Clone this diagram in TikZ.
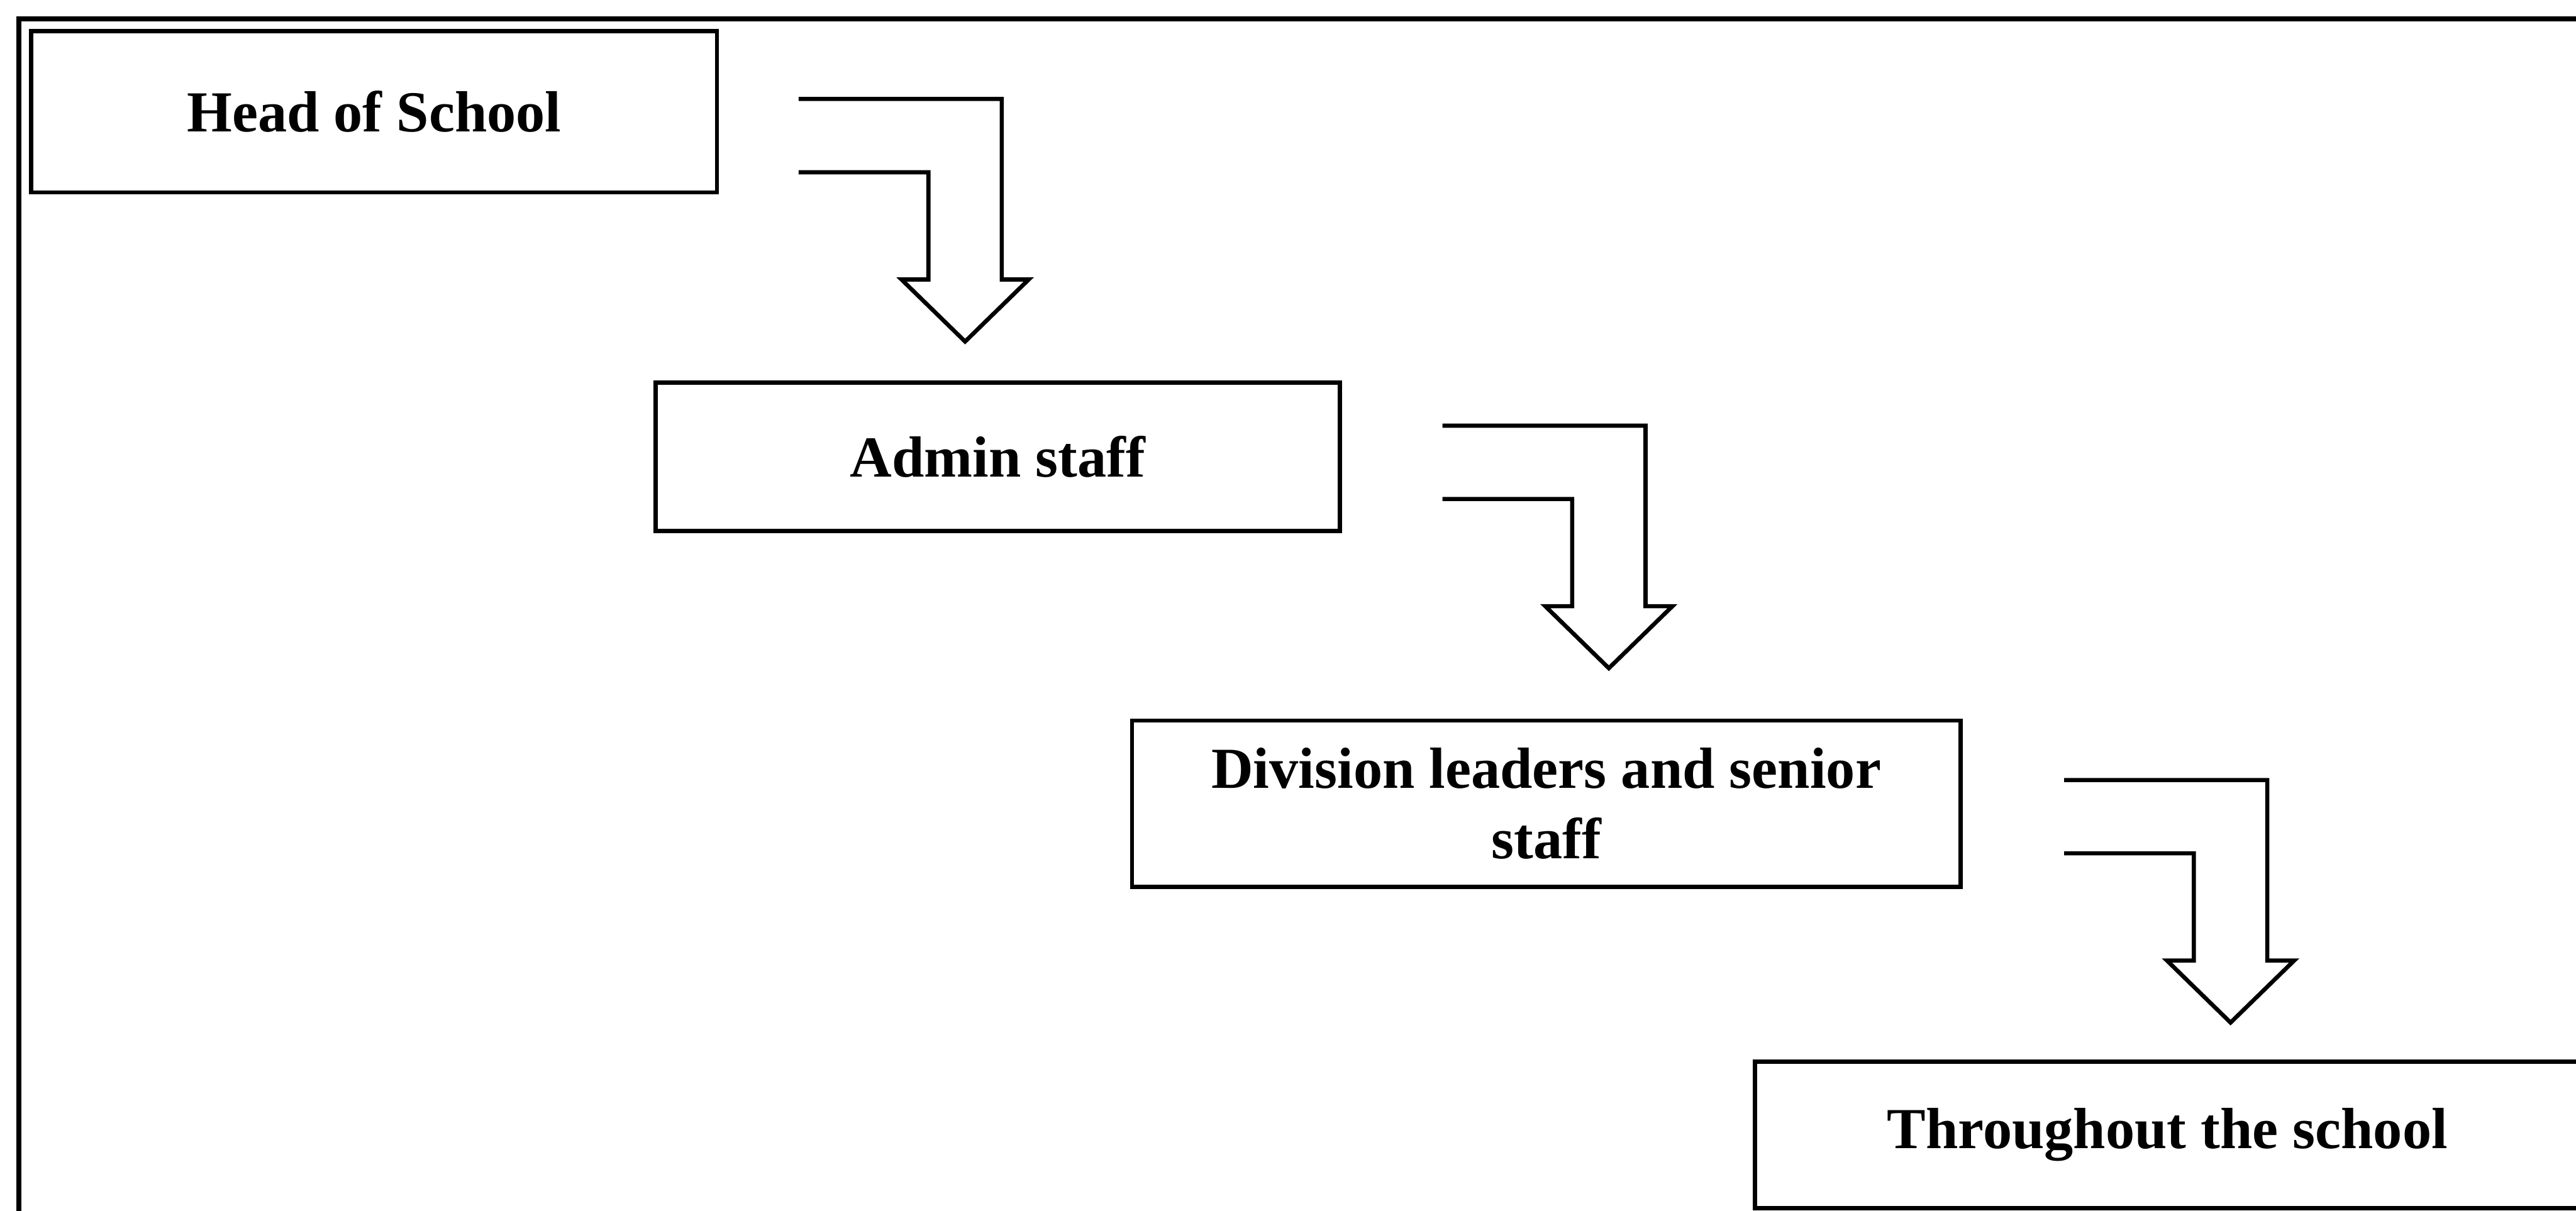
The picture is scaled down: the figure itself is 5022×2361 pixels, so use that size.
\documentclass[tikz,border=0pt]{standalone}
\usepackage{fontspec}
\setmainfont{Liberation Serif}
\begin{document}
\begin{tikzpicture}[x=0.01cm, y=-0.01cm,
  box/.style={draw=black, line width=2.3pt, rectangle, anchor=north west,
    inner sep=0pt, outer sep=0pt, align=center,
    font=\fontsize{32.2pt}{39.2pt}\selectfont\bfseries},
  framebox/.style={draw=black, line width=3pt},
  arrowline/.style={draw=black, line width=2.3pt, line join=miter},
  pics/bentarrow/.style={code={
    % open-ended bent block arrow: two parallel strokes turning down into a head
    \draw[arrowline] (0,0) -- (396,0) -- (396,352) -- (448.5,352)
      -- (324.5,473) -- (200.5,352) -- (253,352) -- (253,143) -- (0,143);
  }}]
\useasboundingbox (0,0) rectangle (5022,2361);
\clip (0,0) rectangle (5022,2361);

% outer frame (runs off the right and bottom edges)
\draw[framebox] (37,2500) -- (37,37) -- (5100,37);

% the four stages
\node[box, minimum width=13.36cm, minimum height=3.14cm] (head) at (61,61) {Head of School};
\node[box, minimum width=13.33cm, minimum height=2.89cm] (admin) at (1278,746) {Admin staff};
\node[box, minimum width=16.14cm, minimum height=3.24cm] (division) at (2207,1405)
  {Division leaders and senior\\staff};
\node[box, minimum width=16.08cm, minimum height=2.86cm] (school) at (3421,2070) {Throughout the school};

% bent arrows leading from each stage down to the next
\coordinate (a1) at (1557,193);
\coordinate (a2) at (2812,830);
\coordinate (a3) at (4024,1521);
\pic at (a1) {bentarrow};
\pic at (a2) {bentarrow};
\pic at (a3) {bentarrow};
\end{tikzpicture}
\end{document}
